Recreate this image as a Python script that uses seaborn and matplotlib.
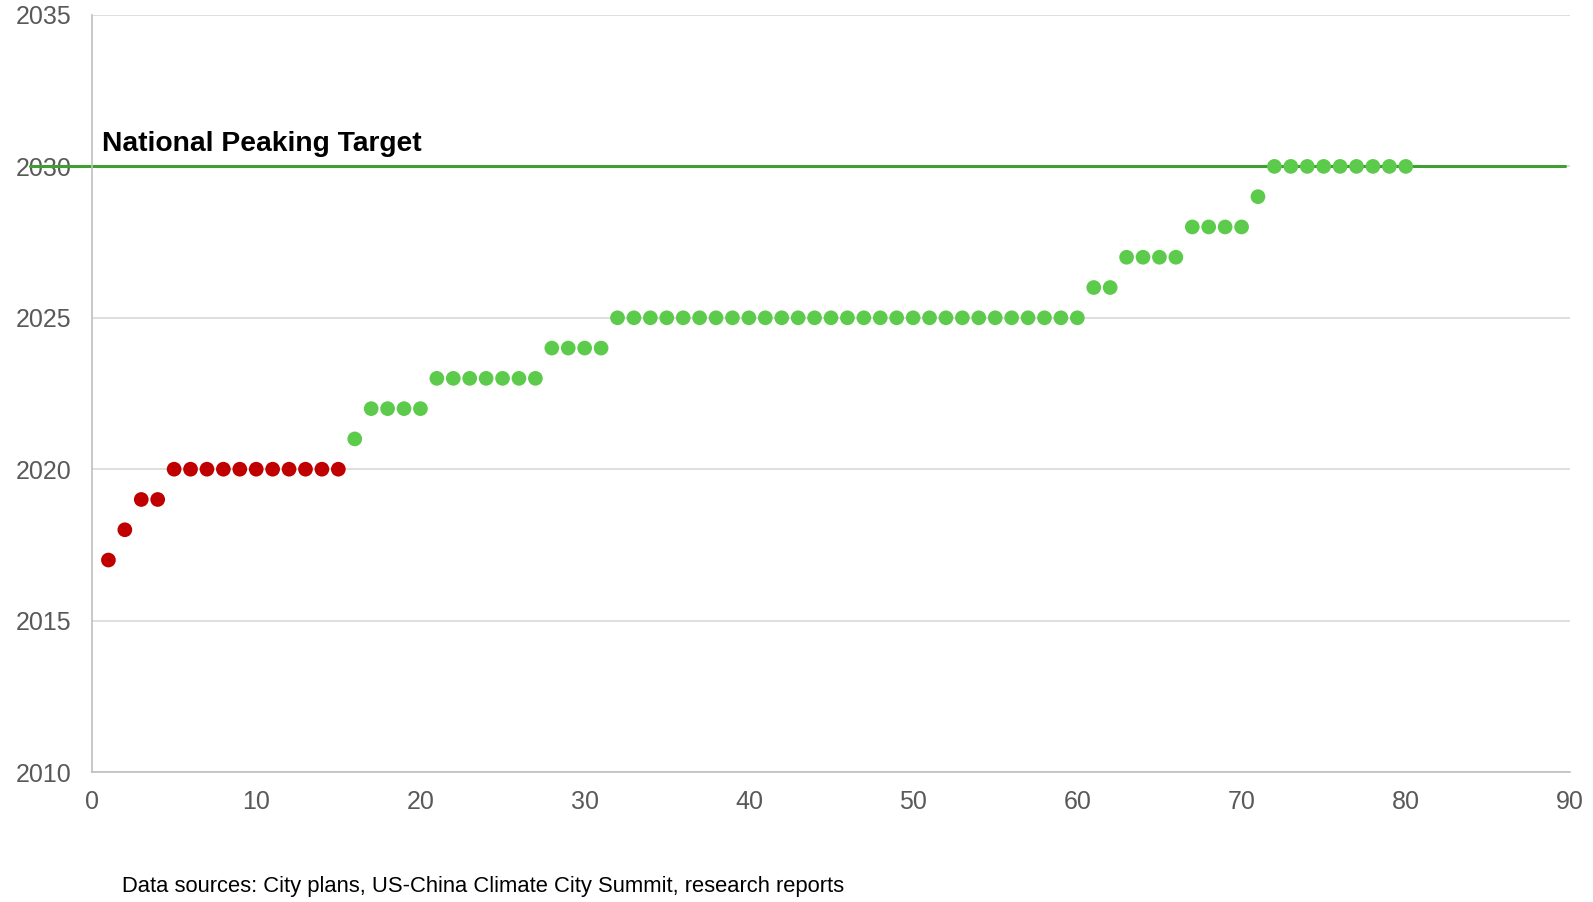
import matplotlib
matplotlib.use("Agg")
import matplotlib.pyplot as plt
import seaborn as sns
import pandas as pd

# Data
city_index = list(range(1, 81))
peak_year = ([2017, 2018, 2019, 2019] + [2020] * 11 + [2021] + [2022] * 4 + [2023] * 7
             + [2024] * 4 + [2025] * 29 + [2026] * 2 + [2027] * 4 + [2028] * 4 + [2029] + [2030] * 9)
status = ["early"] * 15 + ["later"] * 65
target_year = 2030
x_ticks = [0, 10, 20, 30, 40, 50, 60, 70, 80, 90]
y_ticks = [2010, 2015, 2020, 2025, 2030, 2035]
title_text = "National Peaking Target"
source_text = "Data sources: City plans, US-China Climate City Summit, research reports"

df = pd.DataFrame({"city": city_index, "year": peak_year, "status": status})

sns.set_theme(style="white")
plt.rcParams["font.family"] = ["Liberation Sans", "DejaVu Sans"]

fig = plt.figure(figsize=(15.93, 9.02), dpi=100)
ax = fig.add_axes([92 / 1593, 1 - 772 / 902, (1570 - 92) / 1593, (772 - 15) / 902])

ax.set_xlim(0, 90)
ax.set_ylim(2010, 2035)
ax.set_xticks(x_ticks)
ax.set_yticks(y_ticks)
ax.grid(axis="y", color="#D9D9D9", linewidth=1.2)
ax.set_axisbelow(True)

sns.scatterplot(data=df, x="city", y="year", hue="status",
                palette={"early": "#C00000", "later": "#5CCB4B"},
                s=112, edgecolor="none", legend=False, ax=ax, zorder=3)

ax.axhline(target_year, xmin=-0.042, xmax=0.9966, color="#3F9F30",
           linewidth=2.2, clip_on=False, zorder=2)

ax.text(0.6, 2030.3, title_text, fontsize=20.3, fontweight="bold", color="black",
        ha="left", va="bottom")

for side in ["top", "right"]:
    ax.spines[side].set_visible(False)
for side in ["left", "bottom"]:
    ax.spines[side].set_color("#BFBFBF")
    ax.spines[side].set_linewidth(1.2)

ax.tick_params(axis="both", length=0, labelsize=18, labelcolor="#595959")
ax.tick_params(axis="x", pad=13)
ax.tick_params(axis="y", pad=14.5)
ax.set_xlabel("")
ax.set_ylabel("")

fig.text(122 / 1593, 1 - 892 / 902, source_text, fontsize=15.8, color="black",
         ha="left", va="baseline")

fig.savefig("out.png", dpi=100)
